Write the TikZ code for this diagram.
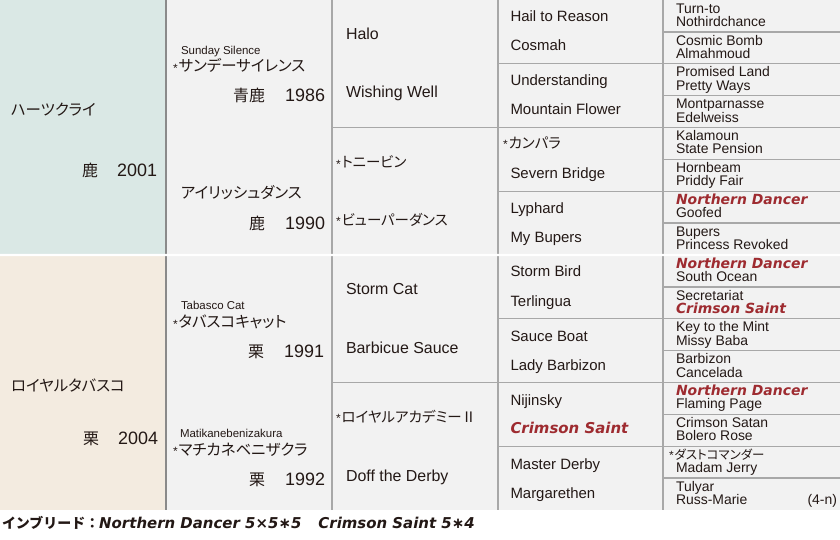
\documentclass[tikz,border=0pt]{standalone}
\usepackage{fontspec}
\setmainfont{Liberation Sans}
\newfontfamily\jp[RawFeature=+palt]{Noto Sans CJK JP}
\newfontfamily\jpf{Noto Sans CJK JP}
\newfontfamily\wide{DejaVu Sans}
\definecolor{ink}{HTML}{231815}
\definecolor{teal}{HTML}{DAE8E5}
\definecolor{beige}{HTML}{F3EBE0}
\definecolor{cellgray}{HTML}{F2F2F2}
\definecolor{gridgray}{HTML}{A8A8A8}
\definecolor{sepgray}{HTML}{8A8A8A}
\definecolor{horsered}{HTML}{9E2B30}
\newcommand\hstar{{\fontfamily{\rmdefault}\fontsize{12}{12}\selectfont\raisebox{-0.5bp}{*}\hspace{1bp}}}
\newcommand\coatyr[3]{{\jp\fontsize{16}{16}\selectfont #1}\hspace{#3}{\fontsize{18}{18}\selectfont #2}}
\newcommand\redn[1]{{\wide\bfseries\itshape\color{horsered}#1}}
\begin{document}
\begin{tikzpicture}[x=1bp,y=-1bp,
  cell/.style={inner sep=0pt,outer sep=0pt,draw=none},
  grid/.style={draw=gridgray,line width=1.3bp},
  txt/.style={anchor=base west,inner sep=0pt,outer sep=0pt,text=ink},
  txtr/.style={anchor=base east,inner sep=0pt,outer sep=0pt,text=ink},
  f5/.style={font=\fontsize{14}{14}\selectfont,text height=9.6bp,text depth=2.4bp},
  f4/.style={font=\fontsize{15}{15}\selectfont},
  f3/.style={font=\fontsize{16}{16}\selectfont},
  small/.style={font=\fontsize{11.5}{11.5}\selectfont},
  jn/.style={font=\jp\fontsize{15.5}{15.5}\selectfont},
  jn3/.style={font=\jp\fontsize{14.5}{14.5}\selectfont}]
\fill[white] (0,0) rectangle (840,540);
\useasboundingbox (0,0) rectangle (840,540);
% column 1
\node[cell,fill=teal,minimum width=166bp,minimum height=255bp] (c1-1) at (83,127.5) {};
\node[cell,fill=beige,minimum width=166bp,minimum height=255bp] (c1-2) at (83,382.5) {};
% column 2
\foreach \i in {1,2}{
  \pgfmathsetmacro\yc{(\i-0.5)*255}
  \node[cell,fill=cellgray,minimum width=166bp,minimum height=255bp] (c2-\i) at (249,\yc) {};
}
\foreach \i in {1,...,4}{
  \pgfmathsetmacro\yc{(\i-0.5)*127.5}
  \node[cell,fill=cellgray,minimum width=166bp,minimum height=127.5bp] (c3-\i) at (415,\yc) {};
}
\foreach \i in {1,...,8}{
  \pgfmathsetmacro\yc{(\i-0.5)*63.75}
  \node[cell,fill=cellgray,minimum width=165bp,minimum height=63.75bp] (c4-\i) at (580.5,\yc) {};
}
\foreach \i in {1,...,16}{
  \pgfmathsetmacro\yc{(\i-0.5)*31.875}
  \node[cell,fill=cellgray,minimum width=177bp,minimum height=31.875bp] (c5-\i) at (751.5,\yc) {};
}
% grid lines
\draw[grid] (c2-1.north east) -- (c2-2.south east);
\draw[grid] (c3-1.north east) -- (c3-4.south east);
\draw[grid] (c4-1.north east) -- (c4-8.south east);
\foreach \i in {1,...,3}{\draw[grid] (c3-\i.south west) -- (c3-\i.south east);}
\foreach \i in {1,...,7}{\draw[grid] (c4-\i.south west) -- (c4-\i.south east);}
\foreach \i in {1,...,15}{\draw[grid] (c5-\i.south west) -- (c5-\i.south east);}
\draw[draw=sepgray,line width=2bp] (c1-1.north east) -- (c1-2.south east);
\draw[white,line width=2.4bp] (c1-1.south west) -- (c5-8.south east);

% column 1 text
\node[txt,font=\jp\fontsize{15.5}{15.5}\selectfont] (n1a) at (11,116) {ハーツクライ};
\node[txtr] (y1a) at (157,177) {\coatyr{鹿}{2001}{19bp}};
\node[txt,font=\jp\fontsize{15.5}{15.5}\selectfont] (n1b) at (11,391) {ロイヤルタバスコ};
\node[txtr] (y1b) at (158,444) {\coatyr{栗}{2004}{19bp}};

% column 2 text
\node[txt,small] (e2a) at (181,54.5) {Sunday Silence};
\node[txt,jn] (n2a) at (173,72) {\hstar サンデーサイレンス};
\node[txtr] (y2a) at (325,102) {\coatyr{青鹿}{1986}{20bp}};
\node[txt,jn] (n2b) at (181,199) {アイリッシュダンス};
\node[txtr] (y2b) at (325,229.5) {\coatyr{鹿}{1990}{20bp}};
\node[txt,small] (e2c) at (181,310) {Tabasco Cat};
\node[txt,jn] (n2c) at (173,328) {\hstar タバスコキャット};
\node[txtr] (y2c) at (324,357) {\coatyr{栗}{1991}{20bp}};
\node[txt,small] (e2d) at (180,437) {Matikanebenizakura};
\node[txt,jn] (n2d) at (173,455) {\hstar マチカネベニザクラ};
\node[txtr] (y2d) at (325,485) {\coatyr{栗}{1992}{20bp}};

% column 3 text
\node[txt,f3] (t3a) at (346,40) {Halo};
\node[txt,f3] (t3b) at (346,98) {Wishing Well};
\node[txt,jn3] (t3c) at (336,168) {\hstar トニービン};
\node[txt,jn3] (t3d) at (336,225.5) {\hstar ビューパーダンス};
\node[txt,f3] (t3e) at (346,295) {Storm Cat};
\node[txt,f3] (t3f) at (346,353) {Barbicue Sauce};
\node[txt,jn3] (t3g) at (336,422) {\hstar ロイヤルアカデミーⅡ};
\node[txt,f3] (t3h) at (346,481.5) {Doff the Derby};

% column 4 text
\node[txt,f4] (t4a) at (510.5,22) {Hail to Reason};
\node[txt,f4] (t4b) at (510.5,51) {Cosmah};
\node[txt,f4] (t4c) at (510.5,85.5) {Understanding};
\node[txt,f4] (t4d) at (510.5,114.5) {Mountain Flower};
\node[txt,jn3] (t4e) at (503,148.5) {\hstar カンパラ};
\node[txt,f4] (t4f) at (510.5,178.5) {Severn Bridge};
\node[txt,f4] (t4g) at (510.5,213.5) {Lyphard};
\node[txt,f4] (t4h) at (510.5,242.5) {My Bupers};
\node[txt,f4] (t4i) at (510.5,277) {Storm Bird};
\node[txt,f4] (t4j) at (510.5,306.5) {Terlingua};
\node[txt,f4] (t4k) at (510.5,341) {Sauce Boat};
\node[txt,f4] (t4l) at (510.5,370) {Lady Barbizon};
\node[txt,f4] (t4m) at (510.5,405) {Nijinsky};
\node[txt,f4] (t4n) at (510.5,433.5) {\redn{Crimson Saint}};
\node[txt,f4] (t4o) at (510.5,469) {Master Derby};
\node[txt,f4] (t4p) at (510.5,498) {Margarethen};

% column 5 text
\foreach \i/\xa/\a/\b in {
  1/676/Turn-to/Nothirdchance,
  2/676/Cosmic Bomb/Almahmoud,
  3/676/Promised Land/Pretty Ways,
  4/676/Montparnasse/Edelweiss,
  5/676/Kalamoun/State Pension,
  6/676/Hornbeam/Priddy Fair,
  7/676/\redn{Northern Dancer}/Goofed,
  8/676/Bupers/Princess Revoked,
  9/676/\redn{Northern Dancer}/South Ocean,
  10/676/Secretariat/\redn{Crimson Saint},
  11/676/Key to the Mint/Missy Baba,
  12/676/Barbizon/Cancelada,
  13/676/\redn{Northern Dancer}/Flaming Page,
  14/676/Crimson Satan/Bolero Rose,
  15/669/{\jp\fontsize{12.5}{12.5}\selectfont\hstar ダストコマンダー}/Madam Jerry,
  16/676/Tulyar/Russ-Marie}{
  \pgfmathsetmacro\ya{(\i-1)*31.875+13.2}
  \pgfmathsetmacro\yb{(\i-1)*31.875+26.4}
  \node[txt,f5] (p\i a) at (\xa,\ya) {\a};
  \node[txt,f5] (p\i b) at (676,\yb) {\b};
}
\node[txtr,f5] (gen) at (837,504.5) {(4-n)};

% inbreeding line
\node[txt] (inb) at (2,528.5) {{\jpf\bfseries\fontsize{14}{14}\selectfont インブリード：}{\wide\bfseries\itshape\fontsize{15}{15}\selectfont Northern Dancer 5×5∗5\hspace{17bp}Crimson Saint 5∗4}};
\end{tikzpicture}
\end{document}
